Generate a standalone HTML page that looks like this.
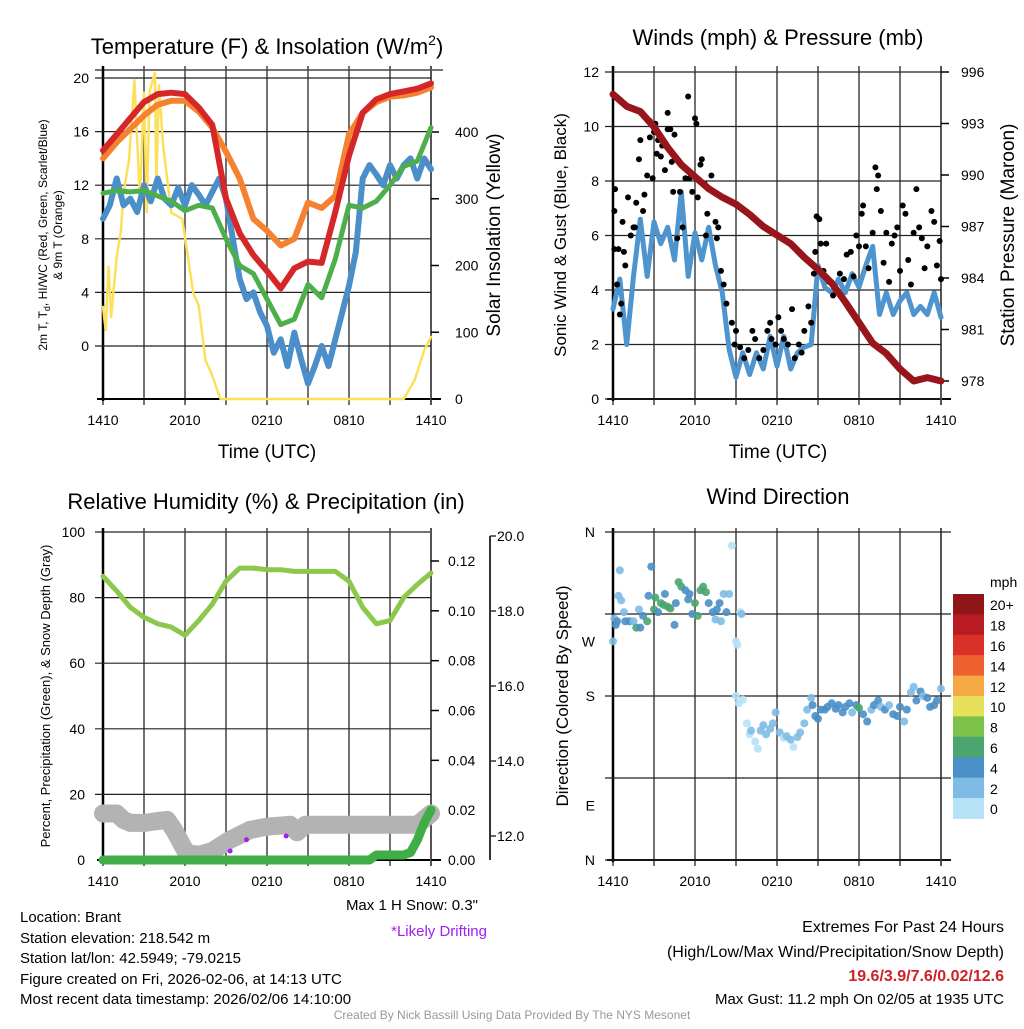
<!DOCTYPE html>
<html><head><meta charset="utf-8">
<style>
html,body{margin:0;padding:0;background:#fff;}
body{width:1024px;height:1024px;overflow:hidden;font-family:"Liberation Sans",Arial,sans-serif;}
svg text{font-family:"Liberation Sans",Arial,sans-serif;fill:#000;}
</style></head>
<body>
<svg id="chart" width="1024" height="1024" viewBox="0 0 1024 1024" xmlns="http://www.w3.org/2000/svg">
<g id="static">
<text x="267" y="54" font-size="22" text-anchor="middle">Temperature (F) &amp; Insolation (W/m<tspan font-size="14" dy="-9">2</tspan><tspan dy="9">)</tspan></text>
<text transform="translate(47,235) rotate(-90)" font-size="12" text-anchor="middle">2m T, T<tspan font-size="9" dy="3">d</tspan><tspan dy="-3">, HI/WC (Red, Green, Scarlet/Blue)</tspan></text>
<text transform="translate(62,235) rotate(-90)" font-size="12" text-anchor="middle">&amp; 9m T (Orange)</text>
<text transform="translate(500,235) rotate(-90)" font-size="19" text-anchor="middle">Solar Insolation (Yellow)</text>
<text x="267" y="458" font-size="19" text-anchor="middle">Time (UTC)</text>
<text x="778" y="45" font-size="22" text-anchor="middle">Winds (mph) &amp; Pressure (mb)</text>
<text transform="translate(566,235) rotate(-90)" font-size="17" text-anchor="middle">Sonic Wind &amp; Gust (Blue, Black)</text>
<text transform="translate(1014,235) rotate(-90)" font-size="19" text-anchor="middle">Station Pressure (Maroon)</text>
<text x="778" y="458" font-size="19" text-anchor="middle">Time (UTC)</text>
<text x="266" y="509" font-size="22" text-anchor="middle">Relative Humidity (%) &amp; Precipitation (in)</text>
<text transform="translate(50,696) rotate(-90)" font-size="13" text-anchor="middle">Percent, Precipitation (Green), &amp; Snow Depth (Gray)</text>
<text x="778" y="504" font-size="22" text-anchor="middle">Wind Direction</text>
<text transform="translate(568,696) rotate(-90)" font-size="17" text-anchor="middle">Direction (Colored By Speed)</text>
<text x="990" y="587" font-size="14">mph</text>
<text x="478" y="910" font-size="15" text-anchor="end" fill="#333">Max 1 H Snow: 0.3"</text>
<text x="487" y="936" font-size="15" text-anchor="end" style="fill:#a020f0">*Likely Drifting</text>
<g font-size="15">
<text x="20" y="922">Location: Brant</text>
<text x="20" y="943">Station elevation: 218.542 m</text>
<text x="20" y="963">Station lat/lon: 42.5949; -79.0215</text>
<text x="20" y="984">Figure created on Fri, 2026-02-06, at 14:13 UTC</text>
<text x="20" y="1004">Most recent data timestamp: 2026/02/06 14:10:00</text>
</g>
<g font-size="16" text-anchor="end">
<text x="1004" y="932">Extremes For Past 24 Hours</text>
<text x="1004" y="957">(High/Low/Max Wind/Precipitation/Snow Depth)</text>
<text x="1004" y="981" font-weight="bold" style="fill:#cc2229">19.6/3.9/7.6/0.02/12.6</text>
<text x="1004" y="1004" font-size="15">Max Gust: 11.2 mph On 02/05 at 1935 UTC</text>
</g>
<text x="512" y="1019" font-size="12" text-anchor="middle" style="fill:#999">Created By Nick Bassill Using Data Provided By The NYS Mesonet</text>
</g>
</svg>
<script>
// ---- data ----
const xTickLabels = ["1410","2010","0210","0810","1410"];
const hourT = [0,1,2,3,4,5,6,7,8,9,10,11,12,13,14,15,16,17,18,19,20,21,22,23,24];
const halfT = [0,0.5,1,1.5,2,2.5,3,3.5,4,4.5,5,5.5,6,6.5,7,7.5,8,8.5,9,9.5,10,10.5,11,11.5,12,12.5,13,13.5,14,14.5,15,15.5,16,16.5,17,17.5,18,18.5,19,19.5,20,20.5,21,21.5,22,22.5,23,23.5,24];
const tempT = [14.6,15.8,17.0,18.2,18.8,18.9,18.8,17.8,16.5,11.0,8.4,6.8,5.6,4.3,5.8,6.3,6.2,10.0,14.2,17.4,18.4,18.8,19.0,19.2,19.6];
const temp9m = [14.0,15.2,16.2,17.2,18.0,18.3,18.3,17.5,16.3,14.5,12.5,9.5,8.6,7.5,8.0,10.7,10.3,11.2,15.8,17.4,18.2,18.6,18.7,18.9,19.3];
const heatWC = [11.4,11.6,11.5,11.6,11.2,10.8,10.1,10.5,10.3,8.0,6.0,5.4,3.5,1.6,2.0,4.6,3.6,6.5,10.5,10.3,10.8,12.0,13.4,13.8,16.3];
const dewpt = [9.5,10.5,12.5,10.5,11.0,10.0,12.0,10.8,12.5,11.0,10.5,11.8,10.5,12.0,11.3,10.5,11.5,12.5,11.0,8.0,5.0,3.5,4.0,2.5,1.5,-0.5,0.5,-1.5,1.0,-1.0,-2.8,-1.5,0.0,-1.5,0.5,2.5,4.5,7.0,12.5,13.5,12.8,12.0,13.5,12.5,13.5,14.0,12.5,14.0,13.2];
const solarT = [0,0.2,0.4,0.6,0.8,1.0,1.3,1.5,1.9,2.3,2.7,3.0,3.2,3.4,3.8,3.9,4.1,4.4,5.0,5.8,6.1,6.6,7.0,7.5,7.9,8.6,22.0,22.8,23.5,24];
const solar = [138,103,198,123,168,213,250,309,358,478,300,459,280,460,489,320,470,380,279,270,228,159,140,58,40,0,0,28,73,93];
const tempTicks = [0,4,8,12,16,20];
const solarTicks = [0,100,200,300,400];

const windTicks = [0,2,4,6,8,10,12];
const presTicks = [978,981,984,987,990,993,996];
const pressure = [994.7,994.0,993.7,992.8,991.6,990.6,989.9,989.2,988.7,988.3,987.7,987.0,986.5,986.0,985.2,984.5,983.7,982.6,981.4,980.2,979.6,978.7,978.0,978.2,978.0];
const sonicWind = [3.3,4.4,2.0,4.5,6.6,4.5,6.5,5.7,6.3,5.1,7.6,4.5,6.1,5.1,6.3,4.9,3.9,1.8,0.8,1.7,0.9,1.7,1.1,2.3,1.2,2.3,1.1,1.7,1.9,2.0,4.9,4.1,3.9,4.4,3.9,4.6,4.1,4.9,5.6,3.1,3.9,3.1,3.6,3.9,3.1,3.4,3.1,3.9,3.0];
const gustT = [0.1,0.1,0.15,0.3,0.4,0.5,0.6,0.7,0.8,0.9,1.1,1.3,1.5,1.6,1.7,1.9,2.0,2.2,2.3,2.5,2.7,2.7,2.9,3.0,3.1,3.2,3.3,3.5,3.6,3.8,4.0,4.0,4.2,4.3,4.4,4.5,4.6,4.7,4.9,5.1,5.3,5.5,5.6,5.8,6.0,6.1,6.2,6.4,6.5,6.7,6.8,6.9,7.2,7.4,7.5,7.6,7.7,7.9,8.1,8.3,8.7,8.9,9.0,9.3,9.6,9.9,10.2,10.4,10.7,11.0,11.3,11.5,11.6,11.9,12.1,12.3,12.5,12.8,13.1,13.3,13.6,13.8,14.0,14.3,14.5,14.7,14.8,14.9,15.1,15.2,15.4,15.6,15.8,16.1,16.3,16.6,16.9,17.1,17.4,17.6,17.8,18.0,18.2,18.3,18.5,18.7,19.0,19.2,19.3,19.4,19.6,19.8,20.0,20.2,20.4,20.6,20.8,21.0,21.2,21.4,21.6,21.8,22.0,22.2,22.4,22.6,22.8,23.0,23.3,23.5,23.7,23.9,24.0];
const gustV = [5.5,6.9,7.7,4.2,5.5,3.1,3.5,6.5,5.4,4.9,7.4,6.0,6.3,6.3,7.2,8.8,9.5,6.9,7.5,8.2,10.2,9.6,8.1,9.8,10.1,9.0,9.5,8.9,9.3,8.4,9.9,10.5,9.9,8.7,7.6,9.7,8.8,5.9,7.6,6.3,8.1,11.1,8.1,7.6,10.3,10.1,7.4,8.6,8.8,7.9,6.0,6.8,8.2,7.6,6.5,5.9,6.3,4.7,4.2,3.5,2.8,2.0,2.5,1.9,1.5,1.8,2.5,2.2,1.5,1.8,2.5,2.8,2.2,2.0,3.0,2.5,2.2,2.0,3.3,1.5,2.0,1.7,2.5,3.4,2.8,4.6,5.4,6.7,6.6,5.7,4.7,5.7,4.3,3.8,4.0,4.6,4.4,5.3,5.4,4.5,6.0,5.6,6.8,7.1,5.6,4.8,6.1,8.5,7.7,8.2,6.9,5.0,6.1,4.3,5.7,6.0,6.3,4.7,7.1,6.8,5.1,4.2,6.1,7.7,6.3,5.9,4.8,5.6,6.9,6.5,4.9,5.8,4.4];

const rhTicks = [0,20,40,60,80,100];
const precipTicks = [0.00,0.02,0.04,0.06,0.08,0.10,0.12];
const snowTicks = [12.0,14.0,16.0,18.0,20.0];
const relHum = [86.5,82,77,74,72,71,68.5,73,78,85,89,89,88.5,88.5,88,88,88,88,85,77,72,73,80,84,87.5];
const precipT = [0,19.5,20,22,22.5,23,23.5,24];
const precip = [0,0,0.002,0.002,0.003,0.008,0.015,0.020];
const snowT = [0,1,1.5,2,3,4,4.7,5.2,6.1,7,8,9.3,10.75,12,13.7,14.2,14.8,16,20,23,24];
const snowDepth = [12.6,12.6,12.43,12.35,12.35,12.4,12.43,12.16,11.55,11.5,11.6,11.9,12.16,12.25,12.3,12.1,12.3,12.3,12.3,12.3,12.6];
const driftT = [9.3,10.5,13.4];
const driftV = [11.6,11.9,12.0];

const dirLabels = ["N","W","S","E","N"];
const dirLabelDeg = [360,240,180,60,0];
const dirGridDeg = [0,90,180,270,360];
const dirT = [0.0,0.1,0.2,0.3,0.4,0.5,0.6,0.8,0.9,1.2,1.5,1.7,1.9,2.0,2.2,2.5,2.6,2.8,3.0,3.1,3.3,3.5,3.7,3.8,4.0,4.2,4.5,4.6,4.8,5.0,5.3,5.5,5.6,5.8,6.0,6.2,6.4,6.6,6.8,7.0,7.3,7.5,7.6,7.8,7.9,8.1,8.3,8.5,8.7,9.0,9.1,9.3,9.4,9.0,9.2,9.5,9.8,10.0,10.1,10.4,10.6,10.8,11.0,11.2,11.5,11.7,11.9,12.2,12.5,12.7,13.0,13.2,13.5,13.7,14.0,14.2,14.5,14.6,14.8,15.0,15.2,15.5,15.7,16.0,16.3,16.5,16.8,17.0,17.3,17.5,17.8,18.0,18.3,18.6,18.9,19.1,19.4,19.6,19.9,20.2,20.5,20.8,21.0,21.3,21.5,21.8,22.0,22.2,22.5,22.7,23.0,23.2,23.5,23.7,24.0];
const dirDeg = [240,265,258,262,290,318,285,272,262,262,262,255,275,255,268,262,290,322,275,288,272,282,280,292,278,276,258,282,305,300,296,286,292,270,282,268,296,300,294,282,272,264,275,282,262,292,272,292,345,240,236,272,270,180,172,176,150,138,142,130,122,142,148,138,144,150,162,140,134,136,132,124,135,140,150,165,178,170,158,155,165,165,168,172,166,170,162,168,172,162,170,167,160,152,165,170,175,168,165,170,160,158,168,152,165,184,190,175,185,180,178,168,170,175,188];
const dirSpeed = [3,3,4,4,2,2,2,3,4,4,3,6,2,4,4,6,4,4,6,6,4,6,6,4,6,6,4,4,7,6,4,4,4,4,6,6,6,6,6,4,4,2,4,4,2,2,4,2,1,1,1,1,2,1,0,1,0,0,2,0,1,2,2,2,2,2,2,2,1,2,2,1,2,2,2,2,2,4,4,4,4,4,4,4,4,4,4,4,4,3,4,6,4,4,3,4,4,3,4,3,4,4,4,3,4,3,3,4,4,3,4,4,4,4,3];
const cbLabels = ["20+","18","16","14","12","10","8","6","4","2","0"];
const cbColors = ["#8f1518","#b81b22","#d9302a","#ee6030","#f6a845","#e6e05a","#7cc24a","#4aa56e","#4a8fc6","#7ebbe5","#b6e2f6"];

// ---- drawing ----
const svg = document.getElementById('chart');
const NS = 'http://www.w3.org/2000/svg';
function mk(tag, attrs, parent){const e=document.createElementNS(NS,tag);for(const k in attrs)e.setAttribute(k,attrs[k]);(parent||svg).appendChild(e);return e;}
function lin(d0,d1,r0,r1){return v=>r0+(v-d0)/(d1-d0)*(r1-r0);}
function poly(xs,ys,fx,fy,attrs,name){const pts=xs.map((t,i)=>fx(t).toFixed(1)+','+fy(ys[i]).toFixed(1)).join(' ');const p=mk('polyline',Object.assign({points:pts,fill:'none','stroke-linejoin':'round','stroke-linecap':'round'},attrs));

return p;}
function txt(x,y,s,size,anchor,name){const t=mk('text',{x:x,y:y,'font-size':size,'text-anchor':anchor||'middle'});t.textContent=s;

return t;}
function frame(X0,X1,Y0,Y1,name){
  const g=mk('g',{});
  
  const fx=lin(0,24,X0,X1);
  for(let h=0;h<=24;h+=3){mk('line',{x1:fx(h),x2:fx(h),y1:Y0-4,y2:Y1+6,stroke:'#444','stroke-width':1.5},g);}
  xTickLabels.forEach((s,i)=>txt(fx(i*6),Y1+26,s,14,'middle','x-tick-label'));
  mk('line',{x1:X0,x2:X0,y1:Y0-4,y2:Y1+2,stroke:'#000','stroke-width':2.5},g);
  mk('line',{x1:X0-6,x2:X1+10,y1:Y1,y2:Y1,stroke:'#000','stroke-width':2},g);
  mk('line',{x1:X1,x2:X1,y1:Y0-4,y2:Y1+6,stroke:'#555','stroke-width':2},g);
  return fx;
}
function hgrid(fy,ticks,X0,X1,extra){ticks.forEach(v=>mk('line',{x1:X0-8,x2:X1+(extra||0),y1:fy(v),y2:fy(v),stroke:'#222','stroke-width':1.2}));}

// Panel 1
(function(){
  const X0=103,X1=431,Y0=70,Y1=399;
  mk('line',{x1:X0-8,x2:X1+12,y1:Y0,y2:Y0,stroke:'#222','stroke-width':1.2});
  const fx=frame(X0,X1,Y0,Y1,'temp-panel');
  const fy=lin(0,20,346,78), fs=lin(0,400,399,132);
  hgrid(fy,tempTicks,X0,X1,0);
  tempTicks.forEach(v=>txt(X0-14,fy(v)+5,String(v),14,'end','temp-tick-label'));
  solarTicks.forEach(v=>{txt(X1+24,fs(v)+5,String(v),14,'start','solar-tick-label');mk('line',{x1:X1,x2:X1+8,y1:fs(v),y2:fs(v),stroke:'#000','stroke-width':1.5});});
  poly(solarT,solar,fx,fs,{stroke:'#fde05a','stroke-width':2.5},'solar-line');
  poly(halfT,dewpt,fx,fy,{stroke:'#4a8fc9','stroke-width':6},'dewpoint-line');
  poly(hourT,heatWC,fx,fy,{stroke:'#4daf4a','stroke-width':5},'windchill-line');
  poly(hourT,temp9m,fx,fy,{stroke:'#f58231','stroke-width':6},'temp-9m-line');
  poly(hourT,tempT,fx,fy,{stroke:'#d62728','stroke-width':6},'temp-2m-line');
})();

// Panel 2
(function(){
  const X0=613,X1=941,Y0=70,Y1=399;
  const fx=frame(X0,X1,Y0,Y1,'wind-panel');
  const fy=lin(0,12,399,72), fp=lin(996,978,72,381);
  hgrid(fy,windTicks,X0,X1,0);
  windTicks.forEach(v=>txt(X0-14,fy(v)+5,String(v),14,'end','wind-tick-label'));
  presTicks.forEach(v=>{txt(X1+20,fp(v)+5,String(v),14,'start','pressure-tick-label');mk('line',{x1:X1,x2:X1+8,y1:fp(v),y2:fp(v),stroke:'#000','stroke-width':1.5});});
  poly(halfT,sonicWind,fx,fy,{stroke:'#4e94cf','stroke-width':5},'sonic-wind-line');
  gustT.forEach((t,i)=>{const c=mk('circle',{cx:fx(t),cy:fy(gustV[i]),r:3,fill:'#000'});
});
  poly(hourT,pressure,fx,fp,{stroke:'#98161b','stroke-width':7},'pressure-line');
})();

// Panel 3
(function(){
  const X0=103,X1=431,Y0=532,Y1=860;
  mk('line',{x1:X0-8,x2:X1,y1:Y0,y2:Y0,stroke:'#222','stroke-width':1.2});
  const fx=frame(X0,X1,Y0,Y1,'rh-panel');
  const fy=lin(0,100,860,532), fpr=lin(0,0.12,860,561), fsn=lin(12,20,836,536);
  hgrid(fy,[20,40,60,80],X0,X1,0);
  rhTicks.forEach(v=>txt(X0-18,fy(v)+5,String(v),14,'end','rh-tick-label'));
  precipTicks.forEach(v=>{txt(X1+17,fpr(v)+5,v.toFixed(2),14,'start','precip-tick-label');mk('line',{x1:X1,x2:X1+8,y1:fpr(v),y2:fpr(v),stroke:'#000','stroke-width':1.5});});
  mk('line',{x1:490,x2:490,y1:536,y2:860,stroke:'#333','stroke-width':2});
  snowTicks.forEach(v=>{txt(497,fsn(v)+5,v.toFixed(1),14,'start','snow-tick-label');mk('line',{x1:490,x2:496,y1:fsn(v),y2:fsn(v),stroke:'#333','stroke-width':1.5});});
  poly(snowT,snowDepth,fx,fsn,{stroke:'#b3b3b3','stroke-width':18},'snow-depth-line');
  driftT.forEach((t,i)=>{const c=mk('circle',{cx:fx(t),cy:fsn(driftV[i]),r:2.5,fill:'#a020f0'});
});
  poly(precipT,precip,fx,fpr,{stroke:'#3fae46','stroke-width':9},'precip-line');
  poly(hourT,relHum,fx,fy,{stroke:'#8bc84b','stroke-width':5},'rh-line');
})();

// Panel 4
(function(){
  const X0=613,X1=941,Y0=532,Y1=860;
  const fx=frame(X0,X1,Y0,Y1,'dir-panel');
  const fd=lin(0,360,860,532);
  dirGridDeg.forEach(d=>mk('line',{x1:X0-8,x2:X1+10,y1:fd(d),y2:fd(d),stroke:'#222','stroke-width':1.2}));
  dirLabels.forEach((s,i)=>txt(X0-18,fd(dirLabelDeg[i])+5,s,14,'end','dir-tick-label'));
  dirT.forEach((t,i)=>{const b=Math.min(10,Math.floor(dirSpeed[i]/2));const c=mk('circle',{cx:fx(t),cy:fd(dirDeg[i]),r:4,fill:cbColors[10-b],'fill-opacity':0.9});
});
  const cy0=594,h=20.4;
  cbColors.forEach((c,i)=>{const r=mk('rect',{x:953,y:cy0+i*h,width:31,height:h+0.5,fill:c});

    txt(990,cy0+i*h+h/2+6,cbLabels[i],14,'start','colorbar-label');});
})();
</script>
</body></html>
